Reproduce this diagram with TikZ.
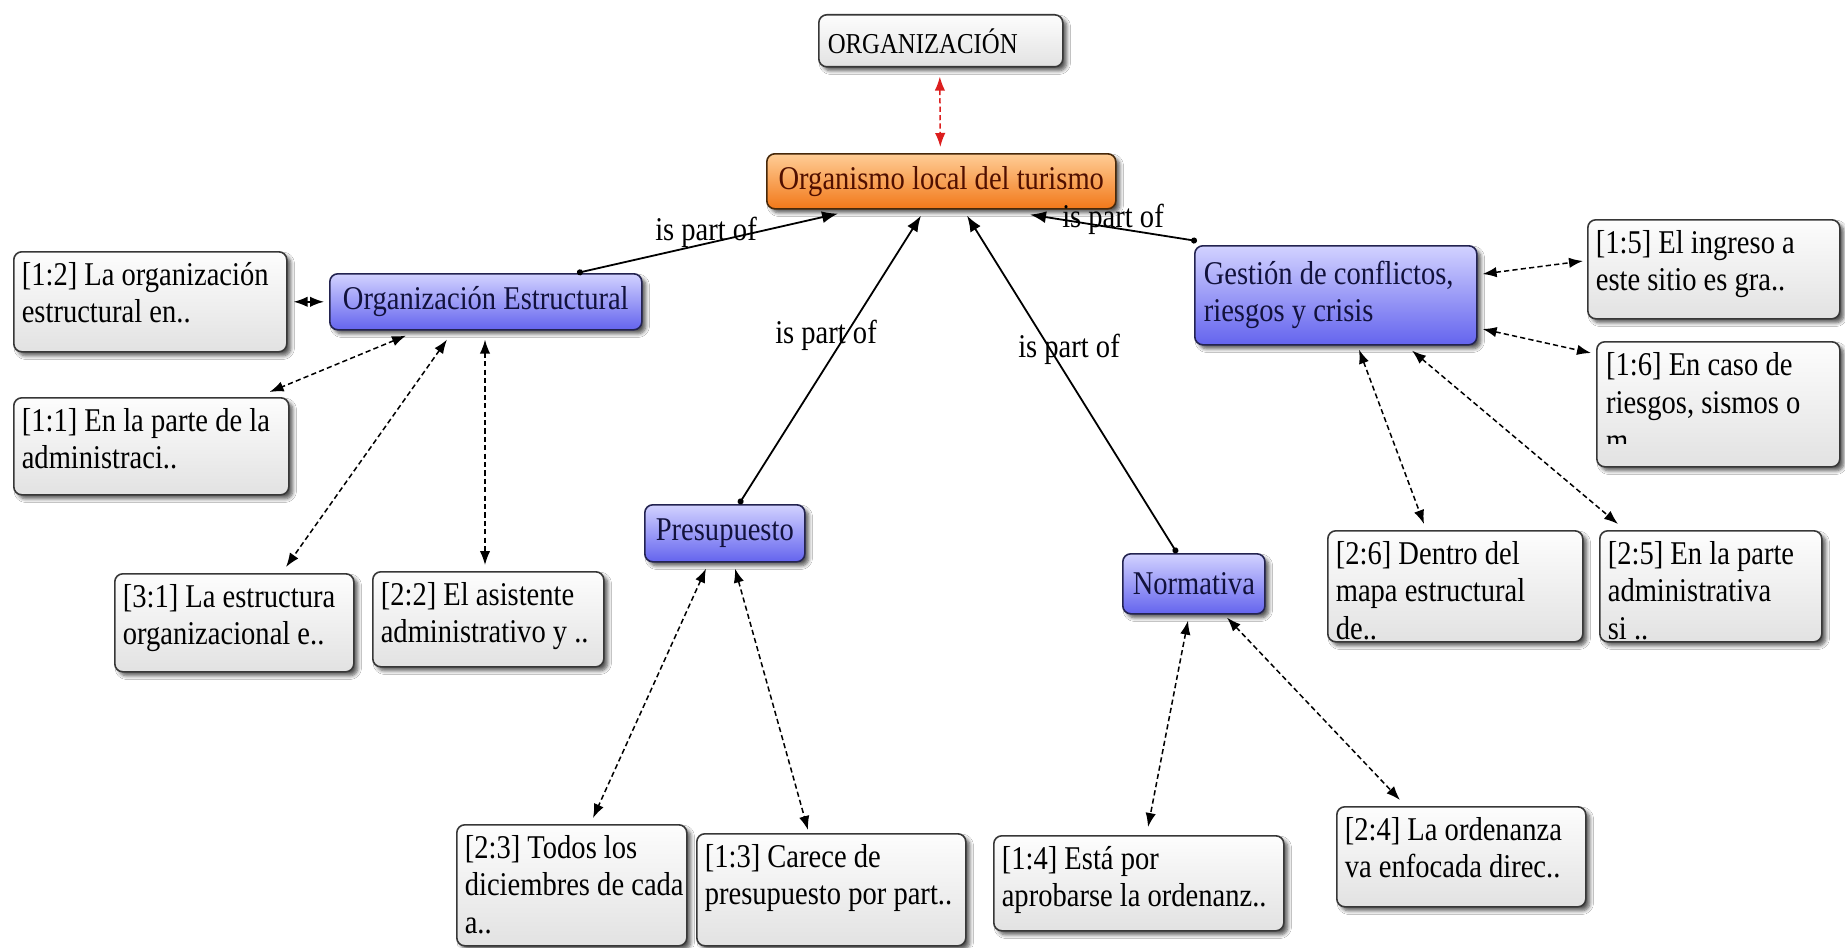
\documentclass[tikz,border=0pt]{standalone}
\usepackage{fontspec}
\setmainfont{Liberation Serif}[FakeStretch=0.86]
\usetikzlibrary{arrows.meta,shadows.blur,calc}

\definecolor{ctop}{RGB}{210,210,255}
\definecolor{cbot}{RGB}{100,100,238}
\definecolor{cborder}{RGB}{35,35,80}
\definecolor{ctext}{RGB}{18,18,60}
\definecolor{otop}{RGB}{255,205,150}
\definecolor{obot}{RGB}{242,120,25}
\definecolor{oborder}{RGB}{70,40,10}
\definecolor{otext}{RGB}{80,15,0}
\definecolor{qtop}{RGB}{253,253,253}
\definecolor{qbot}{RGB}{226,226,226}
\definecolor{qborder}{RGB}{55,55,55}
\definecolor{linkred}{RGB}{220,30,30}

% lines of text kept whole, left aligned
\newcommand{\lines}[1]{\begin{tabular}[t]{@{}l@{}}#1\end{tabular}}
% quotation text: fixed width and height, set from the top
\newcommand{\qtxt}[3]{\parbox[c][#2][t]{#1}{\lines{#3}}}

\begin{document}
\begin{tikzpicture}[x=0.5pt,y=-0.5pt,
  every node/.style={font=\fontsize{16.6}{18.8}\selectfont},
  boxbase/.style={anchor=north west, rounded corners=4pt, line width=0.8pt,
    blur shadow={shadow xshift=2pt, shadow yshift=-2pt, shadow blur steps=6, shadow opacity=65}},
  concept/.style={boxbase, draw=cborder, top color=ctop, bottom color=cbot, text=ctext, inner xsep=5pt, inner ysep=0pt},
  root/.style={boxbase, draw=oborder, top color=otop, bottom color=obot, text=otext, inner xsep=5pt, inner ysep=0pt},
  quote/.style={boxbase, draw=qborder, top color=qtop, bottom color=qbot, text=black, inner xsep=4pt, inner ysep=3.5pt},
  link/.style={line width=0.9pt, {Circle[length=3pt]}-{Latex[length=8pt,width=6pt]}},
  assoc/.style={line width=0.75pt, dash pattern=on 2.6pt off 1.6pt,
    {Latex[length=7pt,width=5.2pt]}-{Latex[length=7pt,width=5.2pt]}},
  linklabel/.style={inner sep=1pt, text=black}
]
\path[use as bounding box, fill=white] (0,0) rectangle (1845,947);

% concepts
\node[quote, inner xsep=4.5pt, inner ysep=0pt, minimum height=26pt,
  font=\fontsize{14.4}{17}\selectfont] (org) at (818,14) {\parbox{113pt}{ORGANIZACIÓN}};
\node[root, minimum width=174.5pt, minimum height=27.5pt] (orgl) at (766,153) {Organismo local del turismo};
\node[concept, minimum width=156pt, minimum height=28pt] (oe) at (329,273) {Organización Estructural};
\node[concept, minimum width=80pt, minimum height=28.5pt] (pres) at (644,504) {Presupuesto};
\node[concept, minimum width=71pt, minimum height=30pt] (norm) at (1122,553) {Normativa};
\node[concept, inner xsep=4.5pt, minimum height=49.5pt] (gest) at (1194,245)
  {\parbox{132pt}{\lines{Gestión de conflictos,\\riesgos y crisis}}};

% quotations
\node[quote] (q12) at (13,251) {\qtxt{128.5pt}{43pt}{[1:2] La organización\\estructural en..}};
\node[quote] (q11) at (13,397) {\qtxt{129.5pt}{41.5pt}{[1:1] En la parte de la\\administraci..}};
\node[quote] (q31) at (114,573) {\qtxt{111.5pt}{42pt}{[3:1] La estructura\\organizacional e..}};
\node[quote] (q22) at (372,571) {\qtxt{107.5pt}{40.5pt}{[2:2] El asistente\\administrativo y ..}};
\node[quote] (q23) at (456,824) {\qtxt{107pt}{53.5pt}{[2:3] Todos los\\diciembres de cada\\a..}};
\node[quote] (q13) at (696,833) {\qtxt{126.5pt}{49pt}{[1:3] Carece de\\presupuesto por part..}};
\node[quote] (q14) at (993,835) {\qtxt{137pt}{40.5pt}{[1:4] Está por\\aprobarse la ordenanz..}};
\node[quote] (q24) at (1336,806) {\qtxt{116.5pt}{43pt}{[2:4] La ordenanza\\va enfocada direc..}};
\node[quote] (q15) at (1587,219) {\qtxt{118pt}{42.5pt}{[1:5] El ingreso a\\este sitio es gra..}};
\node[quote, inner sep=0pt, minimum width=121.5pt, minimum height=62.5pt,
  path picture={
    \clip (path picture bounding box.north west) rectangle
      ([yshift=11.5pt]path picture bounding box.south east);
    \node[anchor=north west, inner xsep=4pt, inner ysep=3.5pt]
      at (path picture bounding box.north west)
      {\qtxt{113pt}{70pt}{[1:6] En caso de\\riesgos, sismos o\\m}};}] (q16) at (1596,341) {};
\node[quote] (q26) at (1327,530) {\qtxt{119.5pt}{48.5pt}{[2:6] Dentro del\\mapa estructural\\de..}};
\node[quote] (q25) at (1599,530) {\qtxt{103pt}{48.5pt}{[2:5] En la parte\\administrativa\\si ..}};

% "is part of" links
\draw[link] ($(oe.north west)+(248,0)$) -- ($(orgl.south west)+(72,4)$);
\draw[link] ($(pres.north west)+(95,0)$) -- ($(orgl.south west)+(155,6)$);
\draw[link] ($(norm.north west)+(55,0)$) -- ($(orgl.south west)+(201,6)$);
\draw[link] ($(gest.north west)+(3,-4)$) -- ($(orgl.south west)+(264,5)$);
\node[linklabel] (l1) at (706,232) {is part of};
\node[linklabel] (l2) at (826,335) {is part of};
\node[linklabel] (l3) at (1069,349) {is part of};
\node[linklabel] (l4) at (1113,219) {is part of};

% associations
\draw[assoc, draw=linkred] ($(org.south)+(-1,9)$) -- ($(orgl.north)+(-1,-6)$);
\draw[assoc] ($(q12.east)+(6,0)$) -- ($(oe.west)+(-5,0)$);
\draw[assoc] ($(oe.south west)+(77,5)$) -- ($(q11.north east)+(-20,-5)$);
\draw[assoc] ($(oe.south west)+(118,9)$) -- ($(q31.north west)+(172,-6)$);
\draw[assoc] ($(oe.south west)+(156,9)$) -- ($(q22.north west)+(113,-6)$);
\draw[assoc] ($(pres.south west)+(62,6)$) -- ($(q23.north west)+(137,-6)$);
\draw[assoc] ($(pres.south west)+(91,6)$) -- ($(q13.north west)+(112,-3)$);
\draw[assoc] ($(norm.south west)+(66,6)$) -- ($(q14.north west)+(155,-8)$);
\draw[assoc] ($(norm.south west)+(105,3)$) -- ($(q24.north west)+(64,-6)$);
\draw[assoc] ($(gest.north east)+(5,29)$) -- ($(q15.north west)+(-4,42)$);
\draw[assoc] ($(gest.north east)+(5,84)$) -- ($(q16.north west)+(-5,12)$);
\draw[assoc] ($(gest.south west)+(165,4)$) -- ($(q26.north west)+(97,-6)$);
\draw[assoc] ($(gest.south west)+(218,5)$) -- ($(q25.north west)+(19,-6)$);
\end{tikzpicture}
\end{document}
